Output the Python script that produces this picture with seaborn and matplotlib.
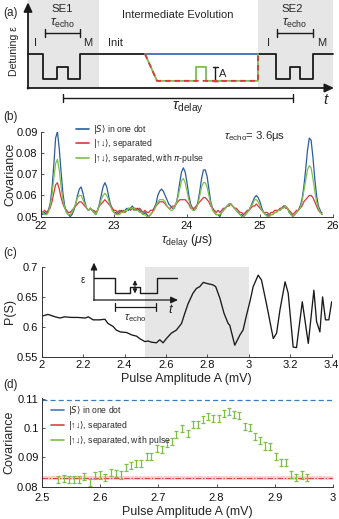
import numpy as np
import pandas as pd
import matplotlib
matplotlib.use("Agg")
import matplotlib.pyplot as plt
import seaborn as sns
from matplotlib.ticker import FuncFormatter
from matplotlib.lines import Line2D
from matplotlib.patches import Rectangle
from matplotlib.font_manager import FontProperties

# ---------------- data ----------------
# panel (b): covariance vs tau_delay (sampled every 0.025 us from 22.0)
b_tau_start = 22.0
b_tau_step = 0.025
b_singlet = [
    .052, .051, .052, .051, .053, .056, .063, .074, .087, .090,
    .082, .071, .061, .055, .052, .051, .050, .051, .053, .056,
    .060, .063, .064, .061, .057, .054, .053, .054, .053, .052,
    .051, .053, .056, .060, .064, .066, .064, .060, .056, .054,
    .052, .052, .051, .052, .053, .052, .053, .054, .053, .054,
    .055, .054, .053, .054, .053, .052, .051, .052, .051, .050,
    .051, .052, .054, .056, .060, .062, .063, .062, .060, .058,
    .056, .055, .054, .054, .056, .060, .066, .071, .073, .071,
    .066, .060, .056, .054, .053, .054, .057, .062, .068, .072,
    .072, .069, .063, .057, .054, .052, .051, .051, .050, .052,
    .053, .054, .055, .056, .056, .055, .054, .053, .052, .051,
    .051, .050, .051, .052, .053, .055, .057, .059, .060, .059,
    .057, .054, .052, .051, .051, .050, .051, .051, .052, .052,
    .053, .053, .054, .055, .055, .054, .052, .051, .050, .051,
    .052, .053, .055, .058, .064, .072, .081, .087, .086, .078,
    .068, .060, .055, .053, .051]
b_separated = [
    .053, .052, .053, .052, .053, .054, .057, .061, .065, .066,
    .063, .059, .056, .054, .053, .052, .052, .053, .054, .055,
    .056, .057, .057, .056, .055, .054, .053, .054, .053, .053,
    .052, .053, .055, .056, .057, .058, .057, .056, .055, .054,
    .053, .053, .052, .053, .052, .053, .052, .053, .054, .053,
    .054, .053, .054, .053, .054, .053, .052, .053, .052, .052,
    .053, .053, .054, .055, .056, .057, .057, .057, .056, .055,
    .054, .054, .055, .055, .056, .057, .058, .058, .058, .058,
    .057, .056, .054, .054, .054, .055, .056, .057, .058, .059,
    .059, .058, .057, .055, .054, .053, .052, .053, .052, .053,
    .054, .054, .055, .055, .056, .055, .054, .054, .053, .052,
    .052, .051, .052, .053, .053, .054, .055, .055, .056, .055,
    .054, .053, .052, .052, .052, .051, .052, .052, .053, .053,
    .053, .054, .054, .055, .054, .054, .053, .052, .051, .052,
    .053, .053, .054, .055, .057, .058, .059, .060, .060, .059,
    .057, .055, .053, .052, .052]
b_pipulse = [
    .052, .052, .051, .051, .052, .055, .060, .068, .075, .077,
    .072, .064, .058, .054, .052, .051, .051, .052, .054, .056,
    .059, .060, .060, .058, .056, .054, .053, .054, .053, .052,
    .051, .053, .055, .058, .060, .061, .060, .058, .055, .053,
    .052, .051, .051, .051, .052, .052, .053, .053, .054, .054,
    .054, .054, .053, .053, .052, .052, .051, .051, .050, .050,
    .051, .052, .053, .055, .057, .058, .058, .058, .057, .055,
    .054, .053, .053, .054, .056, .059, .063, .067, .068, .066,
    .062, .058, .055, .053, .053, .054, .056, .060, .064, .066,
    .066, .064, .060, .056, .053, .052, .051, .051, .051, .052,
    .053, .054, .055, .056, .056, .055, .054, .053, .052, .051,
    .050, .050, .051, .052, .053, .055, .056, .058, .058, .057,
    .055, .053, .052, .051, .050, .050, .051, .051, .052, .052,
    .053, .053, .054, .054, .055, .054, .052, .051, .050, .051,
    .052, .053, .054, .057, .062, .067, .072, .074, .073, .068,
    .062, .057, .054, .052, .051]
b_labels = [r"$|S\rangle$ in one dot",
            r"$|$↑↓$\rangle$, separated",
            r"$|$↑↓$\rangle$, separated, with $\pi$-pulse"]
b_xticks = [22, 23, 24, 25, 26]
b_yticks = [0.05, 0.06, 0.07, 0.08, 0.09]

# panel (c): P(S) vs pulse amplitude
c_amp = [2.0, 2.03, 2.065, 2.088, 2.11, 2.143, 2.175, 2.21, 2.225, 2.248,
         2.28, 2.305, 2.32, 2.345, 2.36, 2.38, 2.41, 2.435, 2.458, 2.473,
         2.498, 2.514, 2.53, 2.554, 2.57, 2.586, 2.602, 2.626, 2.65, 2.675,
         2.69, 2.707, 2.73, 2.747, 2.763, 2.78, 2.80, 2.826, 2.84, 2.86,
         2.88, 2.90, 2.908, 2.932, 2.957, 2.972, 2.989, 3.005, 3.021, 3.045,
         3.061, 3.086, 3.118, 3.134, 3.15, 3.175, 3.19, 3.214, 3.23, 3.258,
         3.287, 3.314, 3.327, 3.343, 3.356, 3.37, 3.386, 3.40]
c_ps = [0.618, 0.621, 0.617, 0.615, 0.617, 0.616, 0.616, 0.615, 0.617, 0.612,
        0.612, 0.613, 0.606, 0.601, 0.595, 0.592, 0.591, 0.587, 0.585, 0.581,
        0.576, 0.577, 0.575, 0.574, 0.579, 0.574, 0.581, 0.590, 0.595, 0.606,
        0.622, 0.639, 0.656, 0.664, 0.667, 0.674, 0.672, 0.670, 0.667, 0.648,
        0.623, 0.606, 0.603, 0.570, 0.587, 0.595, 0.620, 0.642, 0.667, 0.686,
        0.678, 0.637, 0.581, 0.590, 0.628, 0.675, 0.656, 0.567, 0.566, 0.642,
        0.573, 0.661, 0.609, 0.592, 0.650, 0.612, 0.612, 0.642]
c_shade = (2.5, 3.0)
c_xticks = [2.0, 2.2, 2.4, 2.6, 2.8, 3.0, 3.2, 3.4]
c_yticks = [0.55, 0.6, 0.65, 0.7]

# panel (d): covariance vs pulse amplitude
d_amp = [2.528, 2.538, 2.547, 2.555, 2.564, 2.573, 2.582, 2.591, 2.600, 2.608,
         2.618, 2.627, 2.635, 2.644, 2.653, 2.662, 2.670, 2.680, 2.688, 2.697,
         2.706, 2.714, 2.723, 2.731, 2.741, 2.750, 2.760, 2.768, 2.777, 2.786,
         2.794, 2.804, 2.813, 2.822, 2.830, 2.839, 2.849, 2.857, 2.866, 2.875,
         2.884, 2.892, 2.902, 2.910, 2.919, 2.928, 2.936, 2.946, 2.955]
d_cov = [0.0823, 0.0828, 0.0826, 0.0823, 0.0824, 0.0834, 0.0815, 0.0837, 0.0840, 0.0831,
         0.0849, 0.0845, 0.0840, 0.0864, 0.0871, 0.0879, 0.0879, 0.0904, 0.0902, 0.0930,
         0.0928, 0.0947, 0.0953, 0.0978, 0.0998, 0.0981, 0.1012, 0.1012, 0.1029, 0.1041,
         0.1032, 0.1032, 0.1049, 0.1057, 0.1045, 0.1043, 0.1007, 0.1002, 0.0973, 0.0958,
         0.0939, 0.0936, 0.0902, 0.0883, 0.0883, 0.0842, 0.0832, 0.0840, 0.0831]
d_err = 0.0012
d_singlet_level = 0.1097
d_sep_level = 0.0829
d_sep_band = (0.0822, 0.0837)
d_labels = [r"$|S\rangle$ in one dot",
            r"$|$↑↓$\rangle$, separated",
            r"$|$↑↓$\rangle$, separated, with pulse"]
d_xticks = [2.5, 2.6, 2.7, 2.8, 2.9, 3.0]
d_yticks = [0.08, 0.09, 0.10, 0.11]

# schematic (a): time (arb.) and detuning level (arb.)
se1_t = [0, 1.5, 1.5, 2.9, 2.9, 4.0, 4.0, 5.2, 5.2, 11.7]
se1_lv = [1, 1, 0.26, 0.26, 0.62, 0.62, 0.26, 0.26, 1, 1]
blue_t = [11.7, 23.0]
blue_lv = [1, 1]
green_t = [11.7, 12.9, 16.8, 16.8, 17.8, 17.8, 23.0, 23.0]
green_lv = [1, 0.21, 0.21, 0.62, 0.62, 0.21, 0.21, 1]
red_t = [11.7, 12.9, 23.0, 23.0]
red_lv = [1, 0.21, 0.21, 1]
se2_t = [23.0, 24.8, 24.8, 26.2, 26.2, 27.2, 27.2, 28.5, 28.5, 30.5]
se2_lv = [1, 1, 0.26, 0.26, 0.62, 0.62, 0.26, 0.26, 1, 1]

# inset (c) schematic
in_t = [0, 2.1, 2.1, 3.6, 3.6, 4.6, 4.6, 6.3, 6.3, 8.3]
in_lv = [1, 1, 0.32, 0.32, 0.59, 0.59, 0.32, 0.32, 1, 1]

# ---------------- style ----------------
sns.set_theme(style="ticks")
plt.rcParams['font.family'] = ['Liberation Sans', 'DejaVu Sans']
plt.rcParams['mathtext.fontset'] = 'custom'
plt.rcParams['mathtext.rm'] = 'Liberation Sans'
plt.rcParams['mathtext.it'] = 'Liberation Sans:italic'
plt.rcParams['mathtext.bf'] = 'Liberation Sans:bold'
plt.rcParams['xtick.direction'] = 'in'
plt.rcParams['ytick.direction'] = 'in'

BLUE = '#2a5d9f'
RED = '#d9383c'
GREEN = '#7cc04a'
D_BLUE = '#3d7bbf'
D_RED = '#d94545'
BAND = '#f6d2d2'
GRAY = '#e6e6e6'
SPINE = '#333333'
TICK_FS = 8.0
LAB_FS = 9.0
LEG_FS = 6.2

W, H = 339.0, 519.0
fig = plt.figure(figsize=(W / 100, H / 100), dpi=100)


def rect(l, t, r, b):
    return [l / W, 1 - b / H, (r - l) / W, (b - t) / H]


fmt = FuncFormatter(lambda v, p: f"{v:g}")


def style_axis(ax, xpad):
    sns.despine(ax=ax)
    for s in ('left', 'bottom'):
        ax.spines[s].set_linewidth(0.7)
        ax.spines[s].set_color(SPINE)
    ax.tick_params(axis='both', length=2.5, width=0.6, labelsize=TICK_FS,
                   color=SPINE, labelcolor='#111111')
    ax.tick_params(axis='y', pad=2.5)
    ax.tick_params(axis='x', pad=xpad)
    ax.xaxis.set_major_formatter(fmt)
    ax.yaxis.set_major_formatter(fmt)


def leg_prop():
    return FontProperties(family=['Liberation Sans', 'DejaVu Sans'], size=LEG_FS,
                          math_fontfamily='dejavusans')


# ---------------- panel (a) ----------------
ax_a = fig.add_axes(rect(0, 0, 339, 110))
ax_a.set_xlim(-2.8, 31.1)
ax_a.set_ylim(-0.647, 2.588)
ax_a.axis('off')
ax_a.add_patch(Rectangle((0, 0), 7.1, 2.6, color=GRAY, lw=0, zorder=0))
ax_a.add_patch(Rectangle((23.0, 0), 7.5, 2.6, color=GRAY, lw=0, zorder=0))
ax_a.plot(se1_t, se1_lv, color='k', lw=1.3, zorder=3)
ax_a.plot(se2_t, se2_lv, color='k', lw=1.3, zorder=3)
ax_a.plot(blue_t, blue_lv, color='#2a62b0', lw=1.2, zorder=3)
ax_a.plot(green_t, green_lv, color=GREEN, lw=1.3, zorder=3)
ax_a.plot(red_t, red_lv, color=RED, lw=1.3, ls=(0, (3, 2.2)), zorder=4)
arr = dict(arrowstyle='-|>,head_length=0.6,head_width=0.28', color='k', lw=1.3,
           shrinkA=0, shrinkB=0, mutation_scale=9)
ax_a.annotate('', xy=(0, 2.52), xytext=(0, -0.02), arrowprops=arr)
ax_a.annotate('', xy=(30.6, 0), xytext=(-0.05, 0), arrowprops=arr)
# tau_echo brackets
for (t0, t1, tc) in [(1.7, 5.2, 3.45), (24.9, 28.5, 26.7)]:
    ax_a.plot([t0, t1], [1.62, 1.62], color='k', lw=1.0)
    ax_a.plot([t0, t0], [1.5, 1.74], color='k', lw=1.0)
    ax_a.plot([t1, t1], [1.5, 1.74], color='k', lw=1.0)
    ax_a.text(tc, 1.9, r"$\tau_{\rm echo}$", ha='center', va='center', fontsize=9)
# tau_delay bracket
ax_a.plot([3.5, 26.5], [-0.29, -0.29], color='k', lw=1.0)
ax_a.plot([3.5, 3.5], [-0.17, -0.41], color='k', lw=1.0)
ax_a.plot([26.5, 26.5], [-0.17, -0.41], color='k', lw=1.0)
ax_a.text(16.0, -0.58, r"$\tau_{\rm delay}$", ha='center', va='center', fontsize=10.5)
ax_a.text(29.8, -0.36, r"$t$", ha='center', va='center', fontsize=11)
# A bar
ax_a.plot([18.7, 18.7], [0.22, 0.61], color='k', lw=1.0)
ax_a.plot([18.45, 18.95], [0.22, 0.22], color='k', lw=1.0)
ax_a.plot([18.45, 18.95], [0.61, 0.61], color='k', lw=1.0)
ax_a.text(19.1, 0.40, "A", ha='left', va='center', fontsize=8)
for (tt, s) in [(0.75, "I"), (6.0, "M"), (8.75, "Init"), (24.0, "I"), (29.4, "M")]:
    ax_a.text(tt, 1.33, s, ha='center', va='center', fontsize=8)
ax_a.text(3.4, 2.33, "SE1", ha='center', va='center', fontsize=8.2)
ax_a.text(26.4, 2.33, "SE2", ha='center', va='center', fontsize=8.2)
ax_a.text(15.0, 2.15, "Intermediate Evolution", ha='center', va='center', fontsize=8)
fig.text(14 / W, 1 - 51 / H, "Detuning ε", rotation=90, ha='center', va='center', fontsize=7.6)
fig.text(3 / W, 1 - 13 / H, "(a)", ha='left', va='center', fontsize=8.5)

# ---------------- panel (b) ----------------
ax_b = fig.add_axes(rect(41, 131.7, 333, 216.7))
n_b = min(len(b_singlet), len(b_separated), len(b_pipulse))
tau = np.round(b_tau_start + b_tau_step * np.arange(n_b), 3)
df_b = pd.DataFrame({'tau': tau, 'S': b_singlet[:n_b], 'sep': b_separated[:n_b],
                     'pi': b_pipulse[:n_b]})
sns.lineplot(data=df_b, x='tau', y='S', color=BLUE, lw=0.9, ax=ax_b)
sns.lineplot(data=df_b, x='tau', y='sep', color=RED, lw=0.9, ax=ax_b)
sns.lineplot(data=df_b, x='tau', y='pi', color=GREEN, lw=0.9, ax=ax_b)
ax_b.set_xlim(22, 26)
ax_b.set_ylim(0.05, 0.09)
ax_b.set_xticks(b_xticks)
ax_b.set_yticks(b_yticks)
style_axis(ax_b, 3.0)
ax_b.set_xlabel(r"$\tau_{\rm delay}$ ($\mu$s)", fontsize=LAB_FS)
ax_b.set_ylabel("Covariance", fontsize=LAB_FS)
ax_b.xaxis.set_label_coords(0.5, -0.185)
ax_b.yaxis.set_label_coords(-0.085, 0.5)
hb = [Line2D([], [], color=c, lw=1.2) for c in (BLUE, RED, GREEN)]
ax_b.legend(hb, b_labels, loc='upper left', bbox_to_anchor=(0.12, 1.105),
            frameon=False, prop=leg_prop(), handlelength=1.5, handletextpad=0.45,
            labelspacing=0.18, borderpad=0, borderaxespad=0)
ax_b.text(0.625, 0.955, r"$\tau_{\rm echo}$= 3.6μs", transform=ax_b.transAxes,
          ha='left', va='center', fontsize=8.2)
fig.text(3 / W, 1 - 117 / H, "(b)", ha='left', va='center', fontsize=8.5)

# ---------------- panel (c) ----------------
ax_c = fig.add_axes(rect(41.7, 266.7, 331.7, 357.3))
ax_c.axvspan(c_shade[0], c_shade[1], color=GRAY, lw=0, zorder=0)
df_c = pd.DataFrame({'A': c_amp, 'P': c_ps})
sns.lineplot(data=df_c, x='A', y='P', color='k', lw=0.95, sort=False,
             estimator=None, ax=ax_c)
ax_c.set_xlim(2.0, 3.4)
ax_c.set_ylim(0.55, 0.7)
ax_c.set_xticks(c_xticks)
ax_c.set_yticks(c_yticks)
style_axis(ax_c, 2.3)
ax_c.set_xlabel("Pulse Amplitude A (mV)", fontsize=LAB_FS)
ax_c.set_ylabel("P(S)", fontsize=LAB_FS)
ax_c.xaxis.set_label_coords(0.5, -0.168)
ax_c.yaxis.set_label_coords(-0.09, 0.5)
fig.text(3 / W, 1 - 253 / H, "(c)", ha='left', va='center', fontsize=8.5)

# inset schematic in (c)
ax_in = fig.add_axes(rect(75, 258, 185, 325))
ax_in.set_xlim(-1.9, 9.1)
ax_in.set_ylim(-1.136, 1.909)
ax_in.axis('off')
ax_in.plot(in_t, in_lv, color='k', lw=1.0)
arr2 = dict(arrowstyle='-|>,head_length=0.6,head_width=0.28', color='k', lw=0.9,
            shrinkA=0, shrinkB=0, mutation_scale=7)
ax_in.annotate('', xy=(0, 1.7), xytext=(0, -0.02), arrowprops=arr2)
ax_in.annotate('', xy=(8.4, 0), xytext=(-0.03, 0), arrowprops=arr2)
arr3 = dict(arrowstyle='<|-|>,head_length=0.5,head_width=0.25', color='k', lw=0.7,
            shrinkA=0, shrinkB=0, mutation_scale=5)
ax_in.annotate('', xy=(4.1, 0.9), xytext=(4.1, 0.3), arrowprops=arr3)
ax_in.plot([2.1, 6.2], [-0.30, -0.30], color='k', lw=0.9)
ax_in.plot([2.1, 2.1], [-0.12, -0.50], color='k', lw=0.9)
ax_in.plot([6.2, 6.2], [-0.12, -0.50], color='k', lw=0.9)
ax_in.text(4.1, -0.82, r"$\tau_{\rm echo}$", ha='center', va='center', fontsize=7.8)
ax_in.text(-1.15, 0.92, "ε", ha='center', va='center', fontsize=7)
ax_in.text(7.7, -0.42, r"$t$", ha='center', va='center', fontsize=9.5)

# ---------------- panel (d) ----------------
ax_d = fig.add_axes(rect(42, 398.3, 333, 486.7))
ax_d.axhspan(d_sep_band[0], d_sep_band[1], color=BAND, lw=0, zorder=0)
ax_d.axhline(d_singlet_level, color=D_BLUE, lw=0.9, ls=(0, (4, 2.5)))
ax_d.axhline(d_sep_level, color=D_RED, lw=0.8, ls=(0, (5, 1.5, 1.2, 1.5)))
ax_d.errorbar(d_amp, d_cov, yerr=d_err, fmt='none', ecolor=GREEN,
              elinewidth=0.9, capsize=1.6, capthick=0.9)
ax_d.set_xlim(2.5, 3.0)
ax_d.set_ylim(0.08, 0.1102)
ax_d.set_xticks(d_xticks)
ax_d.set_yticks(d_yticks)
style_axis(ax_d, 4.5)
ax_d.set_xlabel("Pulse Amplitude A (mV)", fontsize=LAB_FS)
ax_d.set_ylabel("Covariance", fontsize=LAB_FS)
ax_d.xaxis.set_label_coords(0.5, -0.22)
ax_d.yaxis.set_label_coords(-0.09, 0.5)
hd = [Line2D([], [], color=c, lw=1.2) for c in (D_BLUE, D_RED, GREEN)]
ax_d.legend(hd, d_labels, loc='upper left', bbox_to_anchor=(0.032, 0.94),
            frameon=False, prop=leg_prop(), handlelength=1.5, handletextpad=0.45,
            labelspacing=0.26, borderpad=0, borderaxespad=0)
fig.text(3 / W, 1 - 385 / H, "(d)", ha='left', va='center', fontsize=8.5)

fig.savefig("out.png", dpi=100)
